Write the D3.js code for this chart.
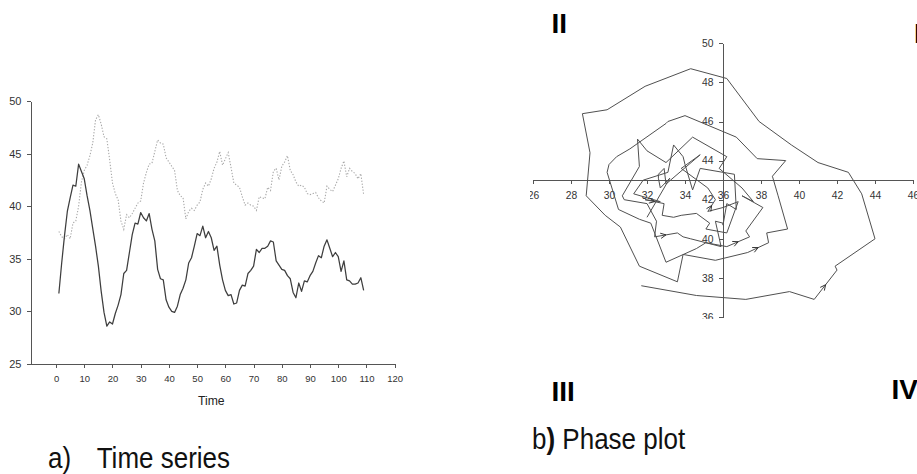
<!DOCTYPE html>
<html>
<head>
<meta charset="utf-8">
<script src="https://cdn.jsdelivr.net/npm/d3@7/dist/d3.min.js"></script>
<style>
  html, body { margin: 0; padding: 0; background: #fff; }
  svg { display: block; font-family: "Liberation Sans", Arial, Helvetica, sans-serif; }
  .axis path, .axis line { stroke: #555; stroke-width: 1; shape-rendering: crispEdges; }
  .axis text { fill: #333; }
</style>
</head>
<body>
<svg id="chart" width="917" height="474"></svg>
<script>
// Time steps of the simulation run
const timeSteps = [
  1, 2, 3, 4, 5, 6, 7, 8, 9, 10, 11, 12, 13, 14, 15, 16, 17, 18, 19, 20,
  21, 22, 23, 24, 25, 26, 27, 28, 29, 30, 31, 32, 33, 34, 35, 36, 37, 38, 39, 40,
  41, 42, 43, 44, 45, 46, 47, 48, 49, 50, 51, 52, 53, 54, 55, 56, 57, 58, 59, 60,
  61, 62, 63, 64, 65, 66, 67, 68, 69, 70, 71, 72, 73, 74, 75, 76, 77, 78, 79, 80,
  81, 82, 83, 84, 85, 86, 87, 88, 89, 90, 91, 92, 93, 94, 95, 96, 97, 98, 99, 100,
  101, 102, 103, 104, 105, 106, 107, 108, 109
];

// First variable (solid line, horizontal axis of the phase plot)
const seriesSolid = [
  31.7, 34.6, 37.2, 39.5, 40.8, 42.0, 41.9, 44.0, 43.3, 42.6,
  41.0, 39.6, 37.9, 36.2, 34.3, 31.9, 29.9, 28.6, 29.0, 28.8,
  29.8, 30.6, 31.6, 33.6, 33.9, 35.6, 37.3, 38.4, 38.3, 39.4,
  38.9, 38.6, 39.3, 37.8, 36.7, 34.0, 33.1, 33.0, 31.1, 30.4,
  30.0, 29.9, 30.5, 31.6, 32.2, 33.0, 34.6, 35.1, 36.2, 37.4,
  37.2, 38.1, 37.0, 37.6, 37.0, 35.8, 36.2, 34.4, 33.0, 32.0,
  31.5, 31.6, 30.7, 30.8, 32.0, 32.5, 32.4, 33.6, 33.9, 34.3,
  35.9, 35.6, 36.0, 36.0, 36.2, 36.7, 36.6, 34.8, 34.4, 34.0,
  33.9, 33.4, 33.1, 31.8, 31.3, 32.7, 31.9, 32.9, 32.8, 33.4,
  33.8, 34.6, 35.3, 35.1, 36.2, 36.8, 36.0, 35.2, 35.6, 35.2,
  33.8, 34.8, 33.0, 32.9, 32.6, 32.6, 32.7, 33.2, 32.0
];

// Second variable (dotted line, vertical axis of the phase plot)
const seriesDotted = [
  37.6, 37.1, 36.9, 37.3, 36.9, 38.4, 38.6, 40.0, 42.3, 43.4,
  43.9, 44.8, 46.0, 48.2, 48.7, 47.8, 46.6, 46.4, 44.4, 42.2,
  41.2, 40.6, 38.6, 37.8, 39.2, 38.9, 39.3, 39.8, 40.3, 40.5,
  42.2, 43.2, 44.0, 44.1, 45.2, 46.3, 46.0, 45.9, 44.6, 44.2,
  43.8, 43.4, 41.5, 41.0, 40.8, 38.8, 39.5, 39.8, 39.6, 40.1,
  40.4, 41.6, 42.2, 41.9, 42.6, 43.6, 44.2, 45.2, 43.9, 44.5,
  45.1, 43.7, 42.2, 42.0, 41.8, 40.9, 40.1, 40.3, 40.1, 40.0,
  39.6, 40.9, 40.8, 40.7, 41.8, 41.5, 43.3, 43.6, 42.5, 43.8,
  44.2, 44.8, 43.4, 43.0, 42.3, 41.9, 42.0, 41.8, 41.2, 41.1,
  41.2, 41.3, 40.8, 40.5, 40.3, 41.9, 41.6, 41.4, 42.0, 42.6,
  43.6, 44.3, 42.8, 43.6, 43.3, 43.1, 42.6, 43.1, 41.1
];

// Tick values
const timeTicks = [0, 10, 20, 30, 40, 50, 60, 70, 80, 90, 100, 110, 120];
const levelTicks = [25, 30, 35, 40, 45, 50];
const phaseXTicks = [26, 28, 30, 32, 34, 36, 38, 40, 42, 44, 46];
const phaseYTicks = [36, 38, 40, 42, 44, 46, 48, 50];

// Phase-plot segments that carry a direction arrow (index of segment start)
const arrowSegments = [4, 26, 48, 66, 86, 97];

// Texts
const quadrantNames = ["I", "II", "III", "IV"];
const captionA = ["a)", "Time series"];
const captionB = ["b", ")", " Phase plot"];
const timeTitle = "Time";

const svg = d3.select("#chart");
const pairs = timeSteps.map((t, i) => ({ t, a: seriesSolid[i], b: seriesDotted[i] }));

/* ---------- a) time series ---------- */
const x = d3.scaleLinear().domain([-9.05, 120]).range([30.5, 394.7]);
const y = d3.scaleLinear().domain([25, 50]).range([364, 101]);

const gA = svg.append("g");

gA.append("g").attr("class", "axis")
  .attr("transform", "translate(0,364)")
  .call(d3.axisBottom(x).tickValues(timeTicks).tickSize(4).tickPadding(7).tickSizeOuter(0))
  .call(g => g.selectAll("text").attr("font-size", 9.5));

gA.append("g").attr("class", "axis")
  .attr("transform", "translate(30.5,0)")
  .call(d3.axisLeft(y).tickValues(levelTicks).tickSize(4).tickPadding(5).tickSizeOuter(0))
  .call(g => g.selectAll("text").attr("font-size", 11));

gA.append("text")
  .attr("x", x(55)).attr("y", 405)
  .attr("text-anchor", "middle")
  .attr("font-size", 12.2).attr("fill", "#222")
  .text(timeTitle);

gA.append("path")
  .datum(pairs)
  .attr("fill", "none")
  .attr("stroke", "#a8a8a8")
  .attr("stroke-width", 1.1)
  .attr("stroke-dasharray", "1.3,1.7")
  .attr("d", d3.line().x(d => x(d.t)).y(d => y(d.b)));

gA.append("path")
  .datum(pairs)
  .attr("fill", "none")
  .attr("stroke", "#3e3e3e")
  .attr("stroke-width", 1.25)
  .attr("stroke-linejoin", "round")
  .attr("d", d3.line().x(d => x(d.t)).y(d => y(d.a)));

/* ---------- b) phase plot ---------- */
const px = d3.scaleLinear().domain([26, 46]).range([533, 913]);
const py = d3.scaleLinear().domain([36, 50]).range([317, 43.3]);

svg.append("defs").append("clipPath").attr("id", "phaseClip")
  .append("rect").attr("x", 530).attr("y", 0).attr("width", 400).attr("height", 319);

const gB = svg.append("g").attr("clip-path", "url(#phaseClip)");

gB.append("g").attr("class", "axis")
  .attr("transform", `translate(0,${py(43)})`)
  .call(d3.axisBottom(px).tickValues(phaseXTicks).tickSize(4).tickPadding(8).tickSizeOuter(0))
  .call(g => g.selectAll("text").attr("font-size", 10.3));

gB.append("g").attr("class", "axis")
  .attr("transform", `translate(${px(36)},0)`)
  .call(d3.axisLeft(py).tickValues(phaseYTicks).tickSize(4.5).tickPadding(5).tickSizeOuter(0))
  .call(g => g.selectAll("text").attr("font-size", 10.3));

gB.append("path")
  .datum(pairs)
  .attr("fill", "none")
  .attr("stroke", "#505050")
  .attr("stroke-width", 1)
  .attr("stroke-linejoin", "round")
  .attr("d", d3.line().x(d => px(d.a)).y(d => py(d.b)));

// small open arrowheads showing the direction of travel
gB.selectAll("path.arrow")
  .data(arrowSegments)
  .join("path")
  .attr("class", "arrow")
  .attr("fill", "none")
  .attr("stroke", "#333")
  .attr("stroke-width", 1)
  .attr("d", i => {
    const p0 = pairs[i], p1 = pairs[i + 1];
    const x0 = px(p0.a), y0 = py(p0.b), x1 = px(p1.a), y1 = py(p1.b);
    const mx = (x0 + x1) / 2, my = (y0 + y1) / 2;
    const ang = Math.atan2(y1 - y0, x1 - x0);
    const L = 6, w = 0.45;
    const ax = mx - L * Math.cos(ang - w), ay = my - L * Math.sin(ang - w);
    const bx = mx - L * Math.cos(ang + w), by = my - L * Math.sin(ang + w);
    return `M${ax},${ay}L${mx},${my}L${bx},${by}`;
  });

// quadrant numerals
const quadPos = {
  "I": [914, 43],
  "II": [551.5, 33.3],
  "III": [551.5, 401],
  "IV": [891.5, 399]
};
svg.selectAll("text.quad")
  .data(quadrantNames)
  .join("text")
  .attr("class", "quad")
  .attr("x", d => quadPos[d][0])
  .attr("y", d => quadPos[d][1])
  .attr("font-size", 28)
  .attr("font-weight", "bold")
  .attr("fill", "#000")
  .text(d => d);

/* ---------- captions (slightly tall lettering) ---------- */
function caption(xPos, yPos) {
  return svg.append("text")
    .attr("transform", `translate(${xPos},${yPos}) scale(1,1.12)`)
    .attr("font-size", 26).attr("fill", "#111");
}
caption(48, 468).text(captionA[0]);
caption(96.7, 468).text(captionA[1]);

const capB = caption(532, 449);
capB.append("tspan").text(captionB[0]);
capB.append("tspan").attr("font-weight", "bold").text(captionB[1]);
capB.append("tspan").text(captionB[2]);
</script>
</body>
</html>
